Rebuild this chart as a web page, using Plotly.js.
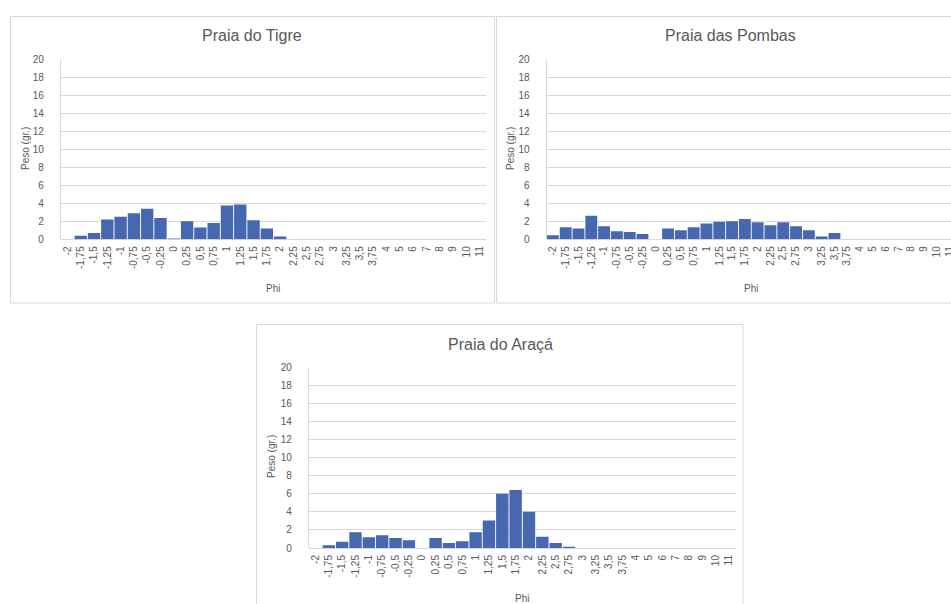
<!DOCTYPE html>
<html>
<head>
<meta charset="utf-8">
<script src="https://cdn.plot.ly/plotly-3.0.1.min.js"></script>
<style>
html,body{margin:0;padding:0;background:#fff;overflow:hidden;width:951px;height:604px;}
#chart{width:980px;height:604px;}
</style>
</head>
<body>
<div id="chart"></div>
<script>
const categories = ['-2','-1,75','-1,5','-1,25','-1','-0,75','-0,5','-0,25','0','0,25','0,5','0,75','1','1,25','1,5','1,75','2','2,25','2,5','2,75','3','3,25','3,5','3,75','4','5','6','7','8','9','10','11'];
const tigre  = [0,0.4,0.7,2.2,2.5,2.9,3.4,2.35,0.1,2.0,1.3,1.8,3.75,3.85,2.1,1.2,0.3,0,0,0,0,0,0,0,0,0,0,0,0,0,0,0];
const pombas = [0.45,1.35,1.2,2.6,1.45,0.9,0.8,0.6,0,1.2,1.0,1.35,1.75,1.95,2.0,2.25,1.9,1.55,1.9,1.45,1.0,0.3,0.7,0,0,0,0,0,0,0,0,0];
const araca  = [0,0.3,0.7,1.75,1.2,1.4,1.1,0.85,0,1.1,0.55,0.75,1.75,3.05,6.0,6.4,4.0,1.25,0.55,0.15,0,0,0,0,0,0,0,0,0,0,0,0];
const titles = ['Praia do Tigre','Praia das Pombas','Praia do Araçá'];
const yTitle = 'Peso (gr.)';
const xTitle = 'Phi';
const yTicks = [0,2,4,6,8,10,12,14,16,18,20];

const W = 980, H = 604;
const px = x => x / W;
const py = y => 1 - y / H;

const FONT = 'Liberation Sans, Arial, sans-serif';
const GREY = '#595959';
const GRID = '#d9d9d9';
const BAR = '#4668b0';

// panel geometry (pixels)
const panels = [
  {box:[10.5,16.5,494.5,303], plot:[60.8,59,486.2,239.3], title:[252,36], ytitle:[25,149], xtitle:[273,289]},
  {box:[496.5,16.5,964,303], plot:[546.5,59,956,239.3], title:[730,36], ytitle:[510,149], xtitle:[751,289]},
  {box:[256.5,324.5,743,640], plot:[308.8,367,735.8,548], title:[500,344], ytitle:[271,457], xtitle:[522,598]}
];
const series = [tigre, pombas, araca];

const data = [];
const layout = {
  width: W, height: H,
  margin: {l:0, r:0, t:0, b:0},
  paper_bgcolor: '#fff', plot_bgcolor: '#fff',
  showlegend: false,
  bargap: 0.07,
  font: {family: FONT, color: GREY, size: 10},
  shapes: [], annotations: []
};

panels.forEach((p, i) => {
  const n = i === 0 ? '' : String(i + 1);
  data.push({
    type: 'bar', x: categories, y: series[i],
    xaxis: 'x' + n, yaxis: 'y' + n,
    marker: {color: BAR, line: {width: 0}},
    hoverinfo: 'x+y'
  });
  layout['xaxis' + n] = {
    domain: [px(p.plot[0]), px(p.plot[2])],
    anchor: 'y' + n,
    type: 'category',
    categoryorder: 'array', categoryarray: categories,
    tickangle: -90,
    tickfont: {family: FONT, size: 10, color: GREY},
    showgrid: false, zeroline: false, showline: false,
    ticks: '', ticklabelstandoff: 4,
    fixedrange: true
  };
  layout['yaxis' + n] = {
    domain: [py(p.plot[3]), py(p.plot[1])],
    anchor: 'x' + n,
    range: [0, 20],
    tickvals: yTicks,
    tickfont: {family: FONT, size: 10, color: GREY},
    showgrid: true, gridcolor: GRID, gridwidth: 1,
    zeroline: true, zerolinecolor: GRID, zerolinewidth: 1,
    showline: true, linecolor: GRID, linewidth: 1,
    ticks: '', ticklabelstandoff: 14,
    fixedrange: true
  };
  layout.shapes.push({
    type: 'rect', xref: 'paper', yref: 'paper',
    x0: px(p.box[0]), x1: px(p.box[2]), y0: py(p.box[3]), y1: py(p.box[1]),
    line: {color: GRID, width: 1}, fillcolor: 'rgba(0,0,0,0)', layer: 'below'
  });
  layout.annotations.push({
    text: titles[i], xref: 'paper', yref: 'paper',
    x: px(p.title[0]), y: py(p.title[1]), xanchor: 'center', yanchor: 'middle',
    showarrow: false, font: {family: FONT, size: 16, color: GREY}
  });
  layout.annotations.push({
    text: yTitle, xref: 'paper', yref: 'paper', textangle: -90,
    x: px(p.ytitle[0]), y: py(p.ytitle[1]), xanchor: 'center', yanchor: 'middle',
    showarrow: false, font: {family: FONT, size: 10, color: GREY}
  });
  layout.annotations.push({
    text: xTitle, xref: 'paper', yref: 'paper',
    x: px(p.xtitle[0]), y: py(p.xtitle[1]), xanchor: 'center', yanchor: 'middle',
    showarrow: false, font: {family: FONT, size: 10, color: GREY}
  });
});

Plotly.newPlot('chart', data, layout, {displayModeBar: false, staticPlot: true});
</script>
</body>
</html>
